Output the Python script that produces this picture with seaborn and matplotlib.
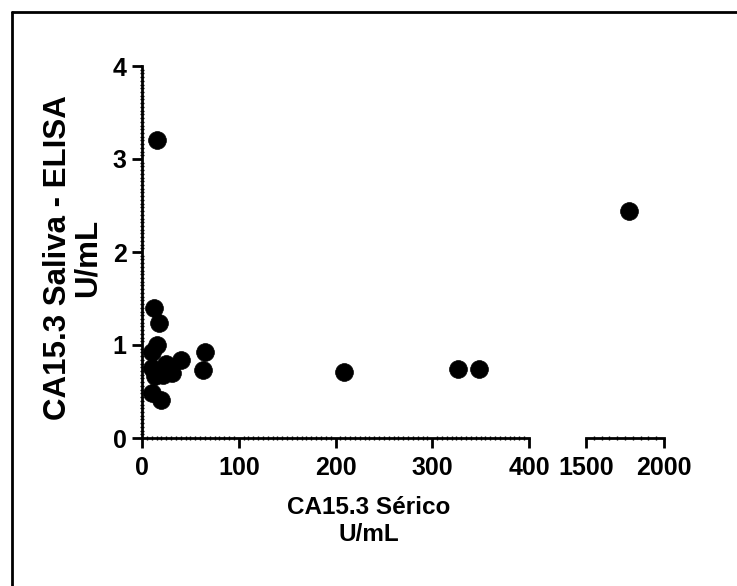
import matplotlib
matplotlib.use("Agg")
import matplotlib.pyplot as plt
from matplotlib.ticker import MultipleLocator
from matplotlib.lines import Line2D
import seaborn as sns
import pandas as pd

# Data
serum = [15, 1775, 12, 18, 16, 10, 25, 40, 10, 15, 20, 31, 13, 22, 65, 63, 10, 20, 209, 327, 348]
saliva = [3.20, 2.44, 1.40, 1.24, 1.00, 0.93, 0.80, 0.84, 0.75, 0.72, 0.70, 0.70, 0.67, 0.68,
          0.93, 0.73, 0.48, 0.41, 0.71, 0.74, 0.74]
left_ticks = [0, 100, 200, 300, 400]
right_ticks = [1500, 2000]
y_ticks = [0, 1, 2, 3, 4]

xlabel = "CA15.3 Sérico\nU/mL"
ylabel = "CA15.3 Saliva - ELISA\nU/mL"

df = pd.DataFrame({"serum": serum, "saliva": saliva})

sns.set_style("white")
plt.rcParams["font.family"] = ["Liberation Sans", "DejaVu Sans"]
plt.rcParams["font.weight"] = "bold"
plt.rcParams["text.color"] = "black"
plt.rcParams["xtick.color"] = "black"
plt.rcParams["ytick.color"] = "black"
plt.rcParams["axes.edgecolor"] = "black"

W, H = 737, 586
fig = plt.figure(figsize=(W / 100, H / 100), dpi=100)

axL = fig.add_axes([142 / W, 1 - 438 / H, (529 - 142) / W, (438 - 66) / H])
axR = fig.add_axes([586 / W, 1 - 438 / H, (664 - 586) / W, (438 - 66) / H])

ms = 165
sns.scatterplot(data=df[df.serum <= 400], x="serum", y="saliva", ax=axL,
                color="black", s=ms, edgecolor="black", linewidth=0.5, legend=False, zorder=5)
sns.scatterplot(data=df[df.serum >= 1500], x="serum", y="saliva", ax=axR,
                color="black", s=ms, edgecolor="black", linewidth=0.5, legend=False, zorder=5)

TFS = 18
for ax in (axL, axR):
    ax.set_ylim(0, 4)
    ax.set_xlabel("")
    ax.set_ylabel("")
    ax.spines["top"].set_visible(False)
    ax.spines["right"].set_visible(False)
    ax.spines["bottom"].set_linewidth(2.0)
    ax.spines["left"].set_linewidth(2.0)
    ax.set_facecolor("none")
    ax.tick_params(axis="both", which="both", bottom=True, left=True)
    ax.tick_params(axis="both", which="major", direction="out", length=7, width=2.0,
                   labelsize=TFS, pad=4, color="black", labelcolor="black")
    ax.tick_params(axis="x", which="major", pad=6)
    ax.tick_params(axis="both", which="minor", direction="inout", length=3.0, width=1.0, color="black")

axL.set_xlim(0, 400)
axL.set_xticks(left_ticks)
axL.xaxis.set_minor_locator(MultipleLocator(5))
axL.set_yticks(y_ticks)
axL.yaxis.set_minor_locator(MultipleLocator(0.04))
axL.set_xticklabels([str(t) for t in left_ticks], fontweight="bold", fontsize=TFS)
axL.set_yticklabels([str(t) for t in y_ticks], fontweight="bold", fontsize=TFS)

axR.set_xlim(1500, 2000)
axR.set_xticks(right_ticks)
axR.xaxis.set_minor_locator(MultipleLocator(50))
axR.set_xticklabels([str(t) for t in right_ticks], fontweight="bold", fontsize=TFS)
axR.spines["left"].set_visible(False)
axR.set_yticks([])
axR.tick_params(axis="y", which="both", left=False, labelleft=False)

fig.text(369 / W, 1 - 521 / H, xlabel, ha="center", va="center", fontsize=17.5,
         fontweight="bold", linespacing=1.25, color="black")
fig.text(73 / W, 1 - 258 / H, ylabel, ha="center", va="center", rotation=90,
         fontsize=22.5, fontweight="bold", linespacing=1.0, color="black")

# frame lines (left and top) around the figure
fig.add_artist(Line2D([12 / W, 12 / W], [0, 1 - 12 / H], transform=fig.transFigure,
                      color="black", linewidth=2.0))
fig.add_artist(Line2D([12 / W, 1], [1 - 12 / H, 1 - 12 / H], transform=fig.transFigure,
                      color="black", linewidth=2.0))

fig.savefig("out.png", dpi=100, facecolor="white")
